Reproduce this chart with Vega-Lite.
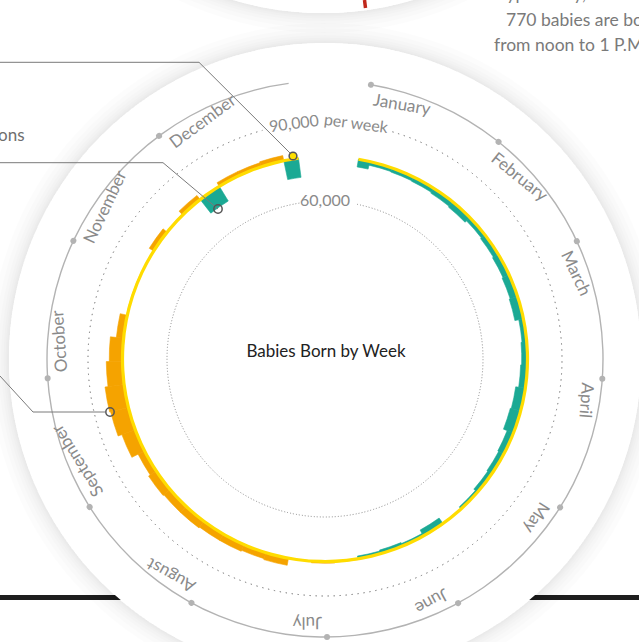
{
  "$schema": "https://vega.github.io/schema/vega-lite/v6.json",
  "width": 628,
  "height": 566,
  "autosize": {"type": "none"},
  "padding": {"left": 11, "top": 76, "right": 0, "bottom": 0},
  "background": "white",
  "config": {"view": {"stroke": null}, "font": "Lato"},
  "datasets": {
    "births": [
      {"day":0,"births":73950},{"day":7,"births":75470},{"day":14,"births":75280},{"day":21,"births":75090},
      {"day":28,"births":74710},{"day":35,"births":74330},{"day":42,"births":75090},{"day":49,"births":74710},
      {"day":56,"births":74330},{"day":63,"births":73950},{"day":70,"births":73570},{"day":77,"births":75090},
      {"day":84,"births":74710},{"day":91,"births":74330},{"day":98,"births":73190},{"day":105,"births":72810},
      {"day":112,"births":74330},{"day":119,"births":74710},{"day":126,"births":75090},{"day":133,"births":75850},
      {"day":140,"births":76800},{"day":147,"births":74330},{"day":154,"births":75850},{"day":161,"births":75470},
      {"day":168,"births":75850},{"day":175,"births":77180},{"day":182,"births":77560},{"day":189,"births":76800},
      {"day":196,"births":79650},{"day":203,"births":79270},{"day":210,"births":79650},{"day":217,"births":79650},
      {"day":224,"births":80030},{"day":231,"births":80030},{"day":238,"births":80410},{"day":245,"births":79650},
      {"day":252,"births":82310},{"day":259,"births":83830},{"day":266,"births":84210},{"day":273,"births":83070},
      {"day":280,"births":81930},{"day":287,"births":79650},{"day":294,"births":77180},{"day":301,"births":77180},
      {"day":308,"births":76800},{"day":315,"births":78890},{"day":322,"births":77180},{"day":329,"births":78890},
      {"day":336,"births":70340},{"day":343,"births":78510},{"day":350,"births":78510},{"day":357,"births":78890},
      {"day":364,"births":69580}
    ],
    "months": [
      {"month":"January","start":0},{"month":"February","start":31},{"month":"March","start":59},
      {"month":"April","start":90},{"month":"May","start":120},{"month":"June","start":151},
      {"month":"July","start":181},{"month":"August","start":212},{"month":"September","start":243},
      {"month":"October","start":273},{"month":"November","start":304},{"month":"December","start":334}
    ]
  },
  "layer": [
    {
      "data": {"values": [{"x": 0, "x2": 639, "y": 597.5}]},
      "mark": {"type": "rule", "color": "#1e1e1e", "strokeWidth": 5},
      "encoding": {
        "x": {"field": "x", "type": "quantitative", "scale": {"domain": [11, 639], "range": [0, 628], "zero": false, "nice": false}, "axis": null},
        "x2": {"field": "x2"},
        "y": {"field": "y", "type": "quantitative", "scale": {"domain": [76, 642], "range": [0, 566], "zero": false, "nice": false}, "axis": null}
      }
    },
    {
      "data": {"values": [{"x": 323, "y": -303}]},
      "layer": [
        {"mark": {"type": "arc", "color": "#000", "opacity": 0.012, "theta": 0, "theta2": 6.2832, "radius": 336, "radius2": 316}},
        {"mark": {"type": "arc", "color": "#000", "opacity": 0.012, "theta": 0, "theta2": 6.2832, "radius": 331, "radius2": 316}},
        {"mark": {"type": "arc", "color": "#000", "opacity": 0.012, "theta": 0, "theta2": 6.2832, "radius": 327, "radius2": 316}},
        {"mark": {"type": "arc", "color": "#000", "opacity": 0.012, "theta": 0, "theta2": 6.2832, "radius": 324, "radius2": 316}},
        {"mark": {"type": "arc", "color": "#000", "opacity": 0.012, "theta": 0, "theta2": 6.2832, "radius": 321.5, "radius2": 316}},
        {"mark": {"type": "arc", "color": "#000", "opacity": 0.012, "theta": 0, "theta2": 6.2832, "radius": 319.5, "radius2": 316}},
        {"mark": {"type": "arc", "color": "#000", "opacity": 0.012, "theta": 0, "theta2": 6.2832, "radius": 318, "radius2": 316}},
        {"mark": {"type": "arc", "color": "#ffffff", "theta": 0, "theta2": 6.2832, "radius": 316}}
      ],
      "encoding": {
        "x": {"field": "x", "type": "quantitative", "scale": {"domain": [11, 639], "range": [0, 628], "zero": false, "nice": false}, "axis": null},
        "y": {"field": "y", "type": "quantitative", "scale": {"domain": [76, 642], "range": [0, 566], "zero": false, "nice": false}, "axis": null}
      }
    },
    {
      "data": {"values": [{}]},
      "layer": [
        {"mark": {"type": "arc", "color": "#000", "opacity": 0.012, "theta": 0, "theta2": 6.2832, "radius": 336, "radius2": 316}, "encoding": {}},
        {"mark": {"type": "arc", "color": "#000", "opacity": 0.012, "theta": 0, "theta2": 6.2832, "radius": 331, "radius2": 316}, "encoding": {}},
        {"mark": {"type": "arc", "color": "#000", "opacity": 0.012, "theta": 0, "theta2": 6.2832, "radius": 327, "radius2": 316}, "encoding": {}},
        {"mark": {"type": "arc", "color": "#000", "opacity": 0.012, "theta": 0, "theta2": 6.2832, "radius": 324, "radius2": 316}, "encoding": {}},
        {"mark": {"type": "arc", "color": "#000", "opacity": 0.012, "theta": 0, "theta2": 6.2832, "radius": 321.5, "radius2": 316}, "encoding": {}},
        {"mark": {"type": "arc", "color": "#000", "opacity": 0.012, "theta": 0, "theta2": 6.2832, "radius": 319.5, "radius2": 316}, "encoding": {}},
        {"mark": {"type": "arc", "color": "#000", "opacity": 0.012, "theta": 0, "theta2": 6.2832, "radius": 318, "radius2": 316}, "encoding": {}},
        {"mark": {"type": "arc", "color": "#ffffff", "theta": 0, "theta2": 6.2832, "radius": 316}, "encoding": {}}
      ]
    },
    {
      "data": {"values": [{"x": 364.5, "y": 0, "x2": 365.5, "y2": 8}]},
      "mark": {"type": "rule", "color": "#c0281c", "strokeWidth": 3.5},
      "encoding": {
        "x": {"field": "x", "type": "quantitative", "scale": {"domain": [11, 639], "range": [0, 628], "zero": false, "nice": false}, "axis": null},
        "x2": {"field": "x2"},
        "y": {"field": "y", "type": "quantitative", "scale": {"domain": [76, 642], "range": [0, 566], "zero": false, "nice": false}, "axis": null},
        "y2": {"field": "y2"}
      }
    },
    {
      "data": {"values": [
        {"x": 459, "y": -0.5, "t": "On a typical day,"},
        {"x": 506, "y": 26, "t": "770 babies are born"},
        {"x": 494, "y": 51, "t": "from noon to 1 P.M."}
      ]},
      "mark": {"type": "text", "align": "left", "baseline": "alphabetic", "fontSize": 17.5, "color": "#7a7a7a", "font": "Lato"},
      "encoding": {
        "x": {"field": "x", "type": "quantitative", "scale": {"domain": [11, 639], "range": [0, 628], "zero": false, "nice": false}, "axis": null},
        "y": {"field": "y", "type": "quantitative", "scale": {"domain": [76, 642], "range": [0, 566], "zero": false, "nice": false}, "axis": null},
        "text": {"field": "t"}
      }
    },
    {
      "data": {"values": [{"x": 24.5, "y": 141, "t": "ons"}]},
      "mark": {"type": "text", "align": "right", "baseline": "alphabetic", "fontSize": 17, "color": "#6e6e6e", "font": "Lato"},
      "encoding": {
        "x": {"field": "x", "type": "quantitative", "scale": {"domain": [11, 639], "range": [0, 628], "zero": false, "nice": false}, "axis": null},
        "y": {"field": "y", "type": "quantitative", "scale": {"domain": [76, 642], "range": [0, 566], "zero": false, "nice": false}, "axis": null},
        "text": {"field": "t"}
      }
    },
    {
      "data": {"values": [{}]},
      "mark": {"type": "arc", "filled": false, "stroke": "#8a8a8a", "strokeWidth": 1, "strokeDash": [1, 5], "theta": 0.204, "theta2": 6.126},
      "encoding": {
        "radius": {"datum": 60000, "type": "quantitative", "scale": {"type": "linear", "domain": [0, 90000], "range": [0, 237], "zero": true, "nice": false}},
        "radius2": {"datum": 60000}
      }
    },
    {
      "data": {"values": [{}]},
      "mark": {"type": "arc", "filled": false, "stroke": "#8a8a8a", "strokeWidth": 1, "strokeDash": [1, 5], "theta": 0.288, "theta2": 6.016},
      "encoding": {
        "radius": {"datum": 90000, "type": "quantitative", "scale": {"type": "linear", "domain": [0, 90000], "range": [0, 237], "zero": true, "nice": false}},
        "radius2": {"datum": 90000}
      }
    },
    {
      "data": {"values": [{}]},
      "mark": {"type": "arc", "color": "#b3b3b3", "radius": 278.7, "radius2": 277.3},
      "encoding": {
        "theta": {"datum": 0, "type": "quantitative", "scale": {"type": "linear", "domain": [0, 365], "range": [0.1658, 6.152], "zero": false, "nice": false}},
        "theta2": {"datum": 365}
      }
    },
    {
      "data": {"name": "months"},
      "mark": {"type": "arc", "color": "#b3b3b3", "radius": 281, "radius2": 275, "cornerRadius": 3, "thetaOffset": -0.0108, "theta2Offset": 0.0108},
      "encoding": {
        "theta": {"field": "start", "type": "quantitative", "stack": null, "scale": {"type": "linear", "domain": [0, 365], "range": [0.1658, 6.152], "zero": false, "nice": false}},
        "theta2": {"field": "start"}
      }
    },
    {
      "data": {"name": "months"},
      "mark": {"type": "text", "align": "left", "baseline": "middle", "fontSize": 17, "color": "#8a8a8a", "radius": 263, "dx": 5, "font": "Lato"},
      "encoding": {
        "theta": {"field": "start", "type": "quantitative", "stack": null, "scale": {"type": "linear", "domain": [0, 365], "range": [0.1658, 6.152], "zero": false, "nice": false}},
        "angle": {"field": "start", "type": "quantitative", "scale": {"domain": [0, 365], "range": [9.5, 352.5]}},
        "text": {"field": "month"}
      }
    },
    {
      "data": {"values": [{"v": 60000, "t": "60,000"}]},
      "mark": {"type": "text", "align": "center", "baseline": "middle", "fontSize": 16, "color": "#8a8a8a", "font": "Lato"},
      "encoding": {
        "theta": {"value": 0},
        "radius": {"field": "v", "type": "quantitative", "scale": {"type": "linear", "domain": [0, 90000], "range": [0, 237], "zero": true, "nice": false}},
        "text": {"field": "t"}
      }
    },
    {
      "data": {"values": [{"v": 90000, "t": "90,000"}]},
      "mark": {"type": "text", "align": "center", "baseline": "middle", "fontSize": 16, "color": "#8a8a8a", "angle": -7.5, "font": "Lato"},
      "encoding": {
        "theta": {"value": -0.1309},
        "radius": {"field": "v", "type": "quantitative", "scale": {"type": "linear", "domain": [0, 90000], "range": [0, 237], "zero": true, "nice": false}},
        "text": {"field": "t"}
      }
    },
    {
      "data": {"values": [{"v": 90000, "t": "per week"}]},
      "mark": {"type": "text", "align": "center", "baseline": "middle", "fontSize": 16, "color": "#8a8a8a", "angle": 7.5, "font": "Lato"},
      "encoding": {
        "theta": {"value": 0.1309},
        "radius": {"field": "v", "type": "quantitative", "scale": {"type": "linear", "domain": [0, 90000], "range": [0, 237], "zero": true, "nice": false}},
        "text": {"field": "t"}
      }
    },
    {
      "data": {"name": "births"},
      "transform": [
        {"joinaggregate": [{"op": "mean", "field": "births", "as": "avg"}]},
        {"calculate": "max(0, datum.day - 3.5)", "as": "d0"},
        {"calculate": "min(365, datum.day + 3.5)", "as": "d1"}
      ],
      "mark": {"type": "arc", "strokeWidth": 0.6},
      "encoding": {
        "theta": {"field": "d0", "type": "quantitative", "stack": null, "scale": {"type": "linear", "domain": [0, 365], "range": [0.1658, 6.152], "zero": false, "nice": false}},
        "theta2": {"field": "d1"},
        "radius": {"field": "births", "type": "quantitative", "scale": {"type": "linear", "domain": [0, 90000], "range": [0, 237], "zero": true, "nice": false}},
        "radius2": {"field": "avg"},
        "color": {"condition": {"test": "datum.births > datum.avg", "value": "#f5a300"}, "value": "#1ba994"},
        "stroke": {"condition": {"test": "datum.births > datum.avg", "value": "#f5a300"}, "value": "#1ba994"}
      }
    },
    {
      "data": {"name": "births"},
      "transform": [{"aggregate": [{"op": "mean", "field": "births", "as": "avg"}]}],
      "mark": {"type": "arc", "color": "#ffdc00", "radiusOffset": 1.6, "radius2Offset": -1.6},
      "encoding": {
        "theta": {"datum": 0, "type": "quantitative", "scale": {"type": "linear", "domain": [0, 365], "range": [0.1658, 6.152], "zero": false, "nice": false}},
        "theta2": {"datum": 365},
        "radius": {"field": "avg", "type": "quantitative", "scale": {"type": "linear", "domain": [0, 90000], "range": [0, 237], "zero": true, "nice": false}},
        "radius2": {"field": "avg"}
      }
    },
    {
      "data": {"values": [
        {"id": "a", "k": 0, "x": 0, "y": 62.3}, {"id": "a", "k": 1, "x": 199, "y": 62.3}, {"id": "a", "k": 2, "x": 293, "y": 156},
        {"id": "b", "k": 0, "x": 0, "y": 162.7}, {"id": "b", "k": 1, "x": 163, "y": 162.7}, {"id": "b", "k": 2, "x": 218, "y": 209},
        {"id": "c", "k": 0, "x": 0, "y": 376}, {"id": "c", "k": 1, "x": 33, "y": 412}, {"id": "c", "k": 2, "x": 105, "y": 412}
      ]},
      "mark": {"type": "line", "color": "#7a7a7a", "strokeWidth": 1},
      "encoding": {
        "x": {"field": "x", "type": "quantitative", "scale": {"domain": [11, 639], "range": [0, 628], "zero": false, "nice": false}, "axis": null},
        "y": {"field": "y", "type": "quantitative", "scale": {"domain": [76, 642], "range": [0, 566], "zero": false, "nice": false}, "axis": null},
        "detail": {"field": "id"},
        "order": {"field": "k"}
      }
    },
    {
      "data": {"values": [{"x": 293, "y": 156}]},
      "mark": {"type": "point", "shape": "circle", "filled": true, "fill": "#ffe000", "stroke": "#555555", "strokeWidth": 1.5, "size": 60, "opacity": 1},
      "encoding": {
        "x": {"field": "x", "type": "quantitative", "scale": {"domain": [11, 639], "range": [0, 628], "zero": false, "nice": false}, "axis": null},
        "y": {"field": "y", "type": "quantitative", "scale": {"domain": [76, 642], "range": [0, 566], "zero": false, "nice": false}, "axis": null}
      }
    },
    {
      "data": {"values": [{"x": 218, "y": 209}, {"x": 110, "y": 412}]},
      "mark": {"type": "point", "shape": "circle", "filled": false, "stroke": "#555555", "strokeWidth": 1.5, "size": 70, "opacity": 1},
      "encoding": {
        "x": {"field": "x", "type": "quantitative", "scale": {"domain": [11, 639], "range": [0, 628], "zero": false, "nice": false}, "axis": null},
        "y": {"field": "y", "type": "quantitative", "scale": {"domain": [76, 642], "range": [0, 566], "zero": false, "nice": false}, "axis": null}
      }
    },
    {
      "data": {"values": [{"x": 326, "y": 352, "t": "Babies Born by Week"}]},
      "mark": {"type": "text", "align": "center", "baseline": "middle", "fontSize": 17, "color": "#222222", "font": "Lato"},
      "encoding": {
        "x": {"field": "x", "type": "quantitative", "scale": {"domain": [11, 639], "range": [0, 628], "zero": false, "nice": false}, "axis": null},
        "y": {"field": "y", "type": "quantitative", "scale": {"domain": [76, 642], "range": [0, 566], "zero": false, "nice": false}, "axis": null},
        "text": {"field": "t"}
      }
    },
    {
      "data": {"values": [{"x": 7, "y": 653, "t": "2017"}]},
      "mark": {"type": "text", "align": "left", "baseline": "alphabetic", "fontSize": 16, "color": "#333333", "font": "Lato"},
      "encoding": {
        "x": {"field": "x", "type": "quantitative", "scale": {"domain": [11, 639], "range": [0, 628], "zero": false, "nice": false}, "axis": null},
        "y": {"field": "y", "type": "quantitative", "scale": {"domain": [76, 642], "range": [0, 566], "zero": false, "nice": false}, "axis": null},
        "text": {"field": "t"}
      }
    }
  ]
}
